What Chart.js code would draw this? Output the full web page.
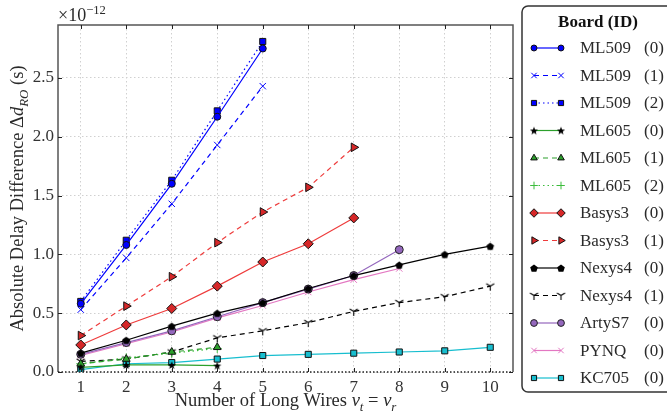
<!DOCTYPE html>
<html>
<head>
<meta charset="utf-8">
<script src="https://cdn.jsdelivr.net/npm/chart.js@4.4.1/dist/chart.umd.min.js"></script>
<style>
  html, body { margin: 0; padding: 0; background: #fff; }
  #wrap { width: 667px; height: 414px; }
</style>
</head>
<body>
<div id="wrap"><canvas id="myChart" width="667" height="414"></canvas></div>
<script>
// values in units of 1e-12 s
const wires = [1, 2, 3, 4, 5, 6, 7, 8, 9, 10];
const yTicks = [0, 0.5, 1.0, 1.5, 2.0, 2.5];
const ml509_0 = [0.58, 1.08, 1.60, 2.17, 2.75];
const ml509_1 = [0.53, 0.97, 1.43, 1.93, 2.43];
const ml509_2 = [0.60, 1.12, 1.63, 2.22, 2.81];
const ml605_0 = [0.04, 0.06, 0.06, 0.055];
const ml605_1 = [0.07, 0.11, 0.17, 0.21];
const ml605_2 = [0.07, 0.12, 0.16, 0.20];
const basys3_0 = [0.23, 0.40, 0.54, 0.73, 0.935, 1.09, 1.31];
const basys3_1 = [0.31, 0.56, 0.81, 1.10, 1.36, 1.57, 1.91];
const nexys4_0 = [0.16, 0.27, 0.39, 0.50, 0.59, 0.71, 0.82, 0.91, 1.00, 1.07];
const nexys4_1 = [0.09, 0.11, 0.17, 0.29, 0.35, 0.42, 0.515, 0.59, 0.64, 0.73];
const artys7_0 = [0.15, 0.25, 0.35, 0.47, 0.59, 0.705, 0.82, 1.04];
const pynq_0 = [0.14, 0.24, 0.34, 0.46, 0.565, 0.68, 0.785, 0.88];
const kc705_0 = [0.02, 0.07, 0.08, 0.11, 0.14, 0.15, 0.16, 0.17, 0.18, 0.21];

const SERIF = "'Liberation Serif', 'DejaVu Serif', serif";

function makeMarker(size, drawFn) {
    const c = document.createElement('canvas');
    c.width = size; c.height = size;
    const g = c.getContext('2d');
    drawFn(g, size / 2);
    return c;
}
const starImg = makeMarker(10, function (g, r) {
    g.beginPath();
    for (let i = 0; i < 10; i++) {
        const a = -Math.PI / 2 + i * Math.PI / 5;
        const rr = i % 2 ? 1.8 : 4.3;
        g.lineTo(r + rr * Math.cos(a), r + 0.5 + rr * Math.sin(a));
    }
    g.closePath();
    g.fillStyle = '#000'; g.fill();
});
const pentImg = makeMarker(10, function (g, r) {
    g.beginPath();
    for (let i = 0; i < 5; i++) {
        const a = -Math.PI / 2 + i * 2 * Math.PI / 5;
        g.lineTo(r + 4 * Math.cos(a), r + 0.5 + 4 * Math.sin(a));
    }
    g.closePath();
    g.fillStyle = '#000'; g.fill();
});
const triDownImg = makeMarker(11, function (g, r) {
    g.strokeStyle = '#000'; g.lineWidth = 1.1;
    g.beginPath();
    g.moveTo(r, r); g.lineTo(r, r + 4.5);
    g.moveTo(r, r); g.lineTo(r - 4, r - 2.5);
    g.moveTo(r, r); g.lineTo(r + 4, r - 2.5);
    g.stroke();
});

function pts(arr) {
    return arr.map((v, i) => ({ x: wires[i], y: v }));
}

function series(name, id, arr, line, dash, style, fill, edge, radius, rot) {
    return {
        label: name, boardId: id,
        data: pts(arr),
        borderColor: line,
        borderWidth: 1.2,
        borderDash: dash,
        pointStyle: style,
        pointRotation: rot || 0,
        pointRadius: radius,
        pointBackgroundColor: fill,
        pointBorderColor: edge,
        pointBorderWidth: 1,
        fill: false,
        tension: 0
    };
}

const datasets = [
    series('ML509', 0, ml509_0, '#0000ff', [], 'circle', '#0000ff', '#111', 3.5),
    series('ML509', 1, ml509_1, '#0000ff', [5, 4], 'crossRot', '#0000ff', '#0000ff', 4.5),
    series('ML509', 2, ml509_2, '#0000ff', [1.5, 3], 'rect', '#0000ff', '#111', 4.3),
    series('ML605', 0, ml605_0, '#2ca02c', [], starImg, '#000', '#000', 5),
    series('ML605', 1, ml605_1, '#2ca02c', [5, 4], 'triangle', '#2ca02c', '#111', 4.5),
    series('ML605', 2, ml605_2, '#3cbc3c', [1.5, 3], 'cross', '#3cbc3c', '#3cbc3c', 4.5),
    series('Basys3', 0, basys3_0, '#ee3b3b', [], 'rectRot', '#d62728', '#111', 5),
    series('Basys3', 1, basys3_1, '#ee3b3b', [5, 4], 'triangle', '#d62728', '#111', 5, 90),
    series('Nexys4', 0, nexys4_0, '#000', [], pentImg, '#000', '#000', 5),
    series('Nexys4', 1, nexys4_1, '#000', [5, 4], triDownImg, '#000', '#000', 5),
    series('ArtyS7', 0, artys7_0, '#9467bd', [], 'circle', '#9467bd', '#222', 4),
    series('PYNQ', 0, pynq_0, '#e377c2', [], 'crossRot', '#e377c2', '#e377c2', 4.5),
    series('KC705', 0, kc705_0, '#17becf', [], 'rect', '#17becf', '#111', 4.3)
];

// draw text pieces: [text, italic, sub|sup]
function richWidth(ctx, parts, size) {
    let w = 0;
    parts.forEach(p => {
        const s = p[2] ? size * 0.7 : size;
        ctx.font = (p[1] ? 'italic ' : '') + s + 'px ' + SERIF;
        w += ctx.measureText(p[0]).width;
    });
    return w;
}
function richText(ctx, parts, x, y, size) {
    let cx = x;
    parts.forEach(p => {
        const s = p[2] ? size * 0.7 : size;
        ctx.font = (p[1] ? 'italic ' : '') + s + 'px ' + SERIF;
        let dy = 0;
        if (p[2] === 'sub') dy = size * 0.25;
        if (p[2] === 'sup') dy = -size * 0.4;
        ctx.fillText(p[0], cx, y + dy);
        cx += ctx.measureText(p[0]).width;
    });
}

const framePlugin = {
    id: 'frame',
    afterDraw(chart) {
        const ctx = chart.ctx;
        const a = chart.chartArea;
        const xs = chart.scales.x, ys = chart.scales.y;
        ctx.save();
        // frame
        ctx.strokeStyle = '#555';
        ctx.lineWidth = 1.5;
        ctx.beginPath();
        ctx.moveTo(a.left, a.bottom); ctx.lineTo(a.left, a.top);
        ctx.lineTo(a.right, a.top); ctx.lineTo(a.right, a.bottom);
        ctx.stroke();
        ctx.setLineDash([1.5, 2]);
        ctx.strokeStyle = '#222';
        ctx.beginPath();
        ctx.moveTo(a.left, a.bottom); ctx.lineTo(a.right, a.bottom);
        ctx.stroke();
        ctx.setLineDash([]);
        // inward ticks
        ctx.strokeStyle = '#222';
        ctx.lineWidth = 1;
        ctx.beginPath();
        wires.forEach(v => {
            const px = Math.round(xs.getPixelForValue(v)) + 0.5;
            ctx.moveTo(px, a.top); ctx.lineTo(px, a.top + 4);
            ctx.moveTo(px, a.bottom); ctx.lineTo(px, a.bottom - 4);
        });
        yTicks.forEach(v => {
            const py = Math.round(ys.getPixelForValue(v)) + 0.5;
            ctx.moveTo(a.left, py); ctx.lineTo(a.left + 4, py);
            ctx.moveTo(a.right, py); ctx.lineTo(a.right - 4, py);
        });
        ctx.stroke();

        ctx.fillStyle = '#2a2a2a';
        ctx.textBaseline = 'alphabetic';
        // offset text
        richText(ctx, [['\u00d710', false], ['\u221212', false, 'sup']], a.left, 21, 18);
        // x title
        const xParts = [['Number of Long Wires ', false], ['v', true], ['t', true, 'sub'],
            [' = ', false], ['v', true], ['r', true, 'sub']];
        const xw = richWidth(ctx, xParts, 18.5);
        richText(ctx, xParts, (a.left + a.right) / 2 - xw / 2, 406, 18.5);
        // y title
        const yParts = [['Absolute Delay Difference ', false], ['\u0394', false], ['d', true],
            ['RO', true, 'sub'], [' (s)', false]];
        const yw = richWidth(ctx, yParts, 18.5);
        ctx.translate(23, (a.top + a.bottom) / 2);
        ctx.rotate(-Math.PI / 2);
        richText(ctx, yParts, -yw / 2, 0, 18.5);
        ctx.restore();
    }
};

const legendPlugin = {
    id: 'boardLegend',
    afterDraw(chart) {
        const ctx = chart.ctx;
        ctx.save();
        const bx = 522, by = 6, bw = 160, bh = 386, r = 6;
        ctx.beginPath();
        ctx.moveTo(bx + r, by); ctx.lineTo(bx + bw, by);
        ctx.lineTo(bx + bw, by + bh); ctx.lineTo(bx + r, by + bh);
        ctx.arcTo(bx, by + bh, bx, by + bh - r, r);
        ctx.lineTo(bx, by + r);
        ctx.arcTo(bx, by, bx + r, by, r);
        ctx.closePath();
        ctx.fillStyle = '#fff';
        ctx.fill();
        ctx.strokeStyle = '#333';
        ctx.lineWidth = 1.5;
        ctx.stroke();

        ctx.fillStyle = '#111';
        ctx.textBaseline = 'middle';
        ctx.font = 'bold 17px ' + SERIF;
        ctx.textAlign = 'center';
        ctx.fillText('Board (ID)', 598, 23);
        ctx.textAlign = 'left';

        chart.data.datasets.forEach((ds, i) => {
            const y = 48 + i * 27.5;
            const x0 = 534, x1 = 561;
            ctx.strokeStyle = ds.borderColor;
            ctx.lineWidth = ds.borderWidth;
            ctx.setLineDash(ds.borderDash);
            ctx.beginPath();
            ctx.moveTo(x0, y); ctx.lineTo(x1, y);
            ctx.stroke();
            ctx.setLineDash([]);
            const opts = { pointStyle: ds.pointStyle, rotation: ds.pointRotation,
                radius: ds.pointRadius * 0.85, borderWidth: ds.pointBorderWidth };
            [x0, x1].forEach(px => {
                ctx.fillStyle = ds.pointBackgroundColor;
                ctx.strokeStyle = ds.pointBorderColor;
                ctx.lineWidth = ds.pointBorderWidth;
                Chart.helpers.drawPoint(ctx, opts, px, y);
            });
            ctx.fillStyle = '#2a2a2a';
            ctx.font = '17px ' + SERIF;
            ctx.fillText(ds.label, 580, y + 1);
            ctx.fillText('(' + ds.boardId + ')', 644, y + 1);
        });
        ctx.restore();
    }
};

const chartInstance = new Chart('myChart', {
    type: 'line',
    data: { datasets: datasets },
    options: {
        responsive: false,
        animation: false,
        layout: { padding: { top: 25, right: 154, left: 0, bottom: 0 } },
        plugins: { legend: { display: false }, tooltip: { enabled: false } },
        scales: {
            x: {
                type: 'linear', min: 0.5, max: 10.5,
                afterBuildTicks: s => { s.ticks = wires.map(v => ({ value: v })); },
                afterFit: s => { s.height = 42; },
                grid: { color: '#d0d0d0', lineWidth: 1, drawTicks: false },
                border: { display: false, dash: [1.5, 2.5] },
                ticks: { padding: 5, color: '#333', font: { family: SERIF, size: 17 },
                    maxRotation: 0, callback: v => String(v) }
            },
            y: {
                type: 'linear', min: 0, max: 2.95,
                afterBuildTicks: s => { s.ticks = yTicks.map(v => ({ value: v })); },
                afterFit: s => { s.width = 58; },
                grid: { color: '#d0d0d0', lineWidth: 1, drawTicks: false },
                border: { display: false, dash: [1.5, 2.5] },
                ticks: { padding: 4, color: '#333', font: { family: SERIF, size: 17 },
                    callback: v => v.toFixed(1) }
            }
        }
    },
    plugins: [framePlugin, legendPlugin]
});
</script>
</body>
</html>
